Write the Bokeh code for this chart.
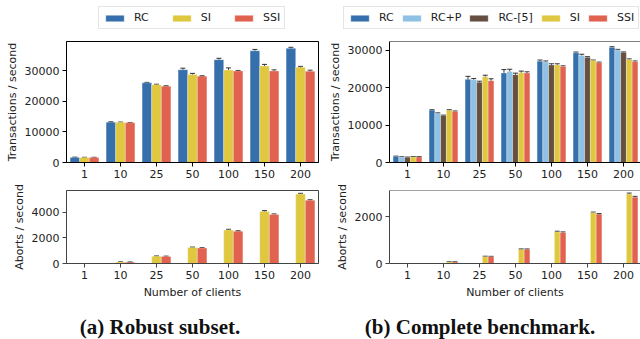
import numpy as np
from bokeh.plotting import figure
from bokeh.models import (ColumnDataSource, Range1d, FixedTicker, Whisker, TeeHead,
                          Legend, LegendItem, Span, Div)
from bokeh.layouts import column, row
from bokeh.embed import file_html
from bokeh.resources import INLINE

# ---------------- data ----------------
clients = ["1", "10", "25", "50", "100", "150", "200"]

# (a) Robust subset
robust_series = ["RC", "SI", "SSI"]
robust_colors = ["#3670ac", "#dfc840", "#e0624f"]
robust_tps_rc = [1650, 13200, 26100, 30400, 33700, 36600, 37400]
robust_tps_si = [1600, 13150, 25500, 28800, 30300, 31600, 31200]
robust_tps_ssi = [1600, 13000, 25000, 28300, 30000, 30000, 29900]
robust_tps_rc_err = [100, 150, 150, 500, 450, 450, 350]
robust_tps_si_err = [100, 100, 150, 400, 700, 550, 300]
robust_tps_ssi_err = [100, 100, 150, 150, 150, 350, 350]
robust_ab_rc = [0, 0, 0, 0, 0, 0, 0]
robust_ab_si = [0, 110, 560, 1250, 2620, 4070, 5420]
robust_ab_ssi = [0, 100, 545, 1210, 2520, 3820, 4930]
robust_ab_rc_err = [0, 0, 0, 0, 0, 0, 0]
robust_ab_si_err = [0, 20, 30, 30, 50, 60, 60]
robust_ab_ssi_err = [0, 20, 30, 30, 40, 50, 50]

# (b) Complete benchmark
full_series = ["RC", "RC+P", "RC-[5]", "SI", "SSI"]
full_colors = ["#3670ac", "#8ec1e3", "#654f40", "#dfc840", "#e0624f"]
full_tps_rc = [1600, 13950, 22200, 23900, 27050, 29290, 30700]
full_tps_rcp = [1450, 13100, 22100, 24300, 26850, 28550, 30000]
full_tps_rc5 = [1350, 12550, 21400, 23450, 26050, 28050, 29370]
full_tps_si = [1500, 13950, 22900, 23950, 26050, 27200, 27450]
full_tps_ssi = [1500, 13600, 21850, 23900, 25600, 26650, 26900]
full_tps_rc_err = [100, 150, 800, 900, 300, 200, 200]
full_tps_rcp_err = [100, 150, 300, 600, 250, 350, 200]
full_tps_rc5_err = [100, 100, 300, 400, 300, 200, 150]
full_tps_si_err = [100, 150, 400, 450, 300, 150, 200]
full_tps_ssi_err = [100, 150, 500, 300, 200, 150, 200]
full_ab_rc = [0, 0, 0, 0, 0, 0, 0]
full_ab_rcp = [0, 0, 0, 0, 0, 0, 0]
full_ab_rc5 = [0, 0, 0, 0, 0, 0, 0]
full_ab_si = [0, 60, 290, 600, 1345, 2160, 2960]
full_ab_ssi = [0, 60, 285, 600, 1315, 2100, 2820]
full_ab_zero_err = [0, 0, 0, 0, 0, 0, 0]
full_ab_si_err = [0, 15, 20, 20, 30, 30, 40]
full_ab_ssi_err = [0, 15, 20, 20, 30, 30, 40]

FONT = "DejaVu Sans"
PX_PER_UNIT = 36.0

# one legend strip spanning the whole width (no axes, frame = whole strip)
lfig = figure(width=640, height=33, title=None,
              x_range=Range1d(-0.5, 6.5), y_range=Range1d(0, 1),
              output_backend="svg", toolbar_location=None,
              x_axis_location=None, y_axis_location=None,
              min_border=0)
lfig.outline_line_color = None
lfig.xgrid.visible = False
lfig.ygrid.visible = False


def style_axes(p, dark):
    p.xgrid.visible = False
    p.ygrid.visible = False
    p.xaxis.ticker = FixedTicker(ticks=list(range(len(clients))))
    p.xaxis.major_label_overrides = {i: c for i, c in enumerate(clients)}
    for ax in p.axis:
        ax.minor_tick_line_color = None
        ax.major_tick_in = 0
        ax.major_tick_out = 4
        ax.major_label_standoff = 3
        ax.major_label_text_font = FONT
        ax.major_label_text_font_size = "11px"
        ax.major_label_text_color = "#222222"
        ax.axis_label_text_font = FONT
        ax.axis_label_text_font_size = "11px"
        ax.axis_label_text_font_style = "normal"
        ax.axis_label_text_color = "#222222"
        ax.axis_label_standoff = 3
        ax.axis_line_color = dark
        ax.major_tick_line_color = dark


def build_panel(series, colors, tps, tps_err, ab, ab_err, caption,
                ml, mr, frame_w, tps_max, ab_max, tps_ticks, ab_ticks,
                leg_x, leg_spacing, cap_pad, open_right):
    fig_w = ml + frame_w + mr
    n = len(series)
    bar_w = 0.8 / n
    x0 = np.arange(len(clients))
    x_end = -0.5 + frame_w / PX_PER_UNIT

    top = figure(width=fig_w, height=149, title=None,
                 x_range=Range1d(-0.5, x_end), y_range=Range1d(0, tps_max),
                 output_backend="svg", toolbar_location=None,
                 min_border_left=ml, min_border_right=mr,
                 min_border_top=8, min_border_bottom=20)
    bot = figure(width=fig_w, height=119, title=None,
                 x_range=Range1d(-0.5, x_end), y_range=Range1d(0, ab_max),
                 output_backend="svg", toolbar_location=None,
                 min_border_left=ml, min_border_right=mr,
                 min_border_top=8, min_border_bottom=38)

    items = []
    for i, (name, col) in enumerate(zip(series, colors)):
        xs = x0 + (i - (n - 1) / 2) * bar_w
        for p, vals, errs in ((top, tps[i], tps_err[i]), (bot, ab[i], ab_err[i])):
            v = np.array(vals, dtype=float)
            e = np.array(errs, dtype=float)
            src = ColumnDataSource(dict(x=xs, top=v, upper=v + e, lower=np.maximum(v - e, 0)))
            p.vbar(x="x", top="top", width=bar_w, source=src,
                   fill_color=col, line_color="white", line_width=0.6, line_alpha=0.5)
            p.add_layout(Whisker(source=src, base="x", upper="upper", lower="lower",
                                 line_color="#333333", line_width=1,
                                 upper_head=TeeHead(size=5, line_color="#333333", line_width=1),
                                 lower_head=TeeHead(size=5, line_color="#333333", line_width=1)))
            if p is top:
                # hidden proxy of the same series, used only for the legend strip
                proxy = lfig.vbar(x="x", top="top", width=bar_w, source=src,
                                  fill_color=col, line_color="white", line_width=0.6,
                                  line_alpha=0.5, visible=False)
                items.append(LegendItem(label=name, renderers=[proxy]))

    top.yaxis.ticker = FixedTicker(ticks=tps_ticks)
    bot.yaxis.ticker = FixedTicker(ticks=ab_ticks)
    top.yaxis.axis_label = "Transactions / second"
    bot.yaxis.axis_label = "Aborts / second"
    bot.xaxis.axis_label = "Number of clients"
    style_axes(top, "black")
    style_axes(bot, "#444444")
    bot.xaxis.axis_label_standoff = 4

    if open_right:
        top.outline_line_color = None
        bot.outline_line_color = None
        top.add_layout(Span(location=tps_max, dimension="width", line_color="black", line_width=1))
        bot.add_layout(Span(location=ab_max, dimension="width", line_color="#444444", line_width=1))
    else:
        top.outline_line_color = "black"
        top.outline_line_alpha = 1
        bot.outline_line_color = "#444444"
        bot.outline_line_alpha = 1

    leg = Legend(items=items, orientation="horizontal", location=(leg_x, 4),
                 label_text_font=FONT, label_text_font_size="11px", label_text_color="#222222",
                 glyph_width=23, glyph_height=8, label_height=12, label_width=1,
                 label_standoff=8, spacing=leg_spacing, padding=4, margin=0,
                 border_line_color="#cccccc", border_line_width=1,
                 background_fill_color="white", background_fill_alpha=1,
                 click_policy="none")
    lfig.add_layout(leg)

    cap = Div(text=('<div style="font-family:\'Liberation Serif\';font-weight:bold;'
                    'font-size:21px;line-height:20px;text-align:center;white-space:nowrap;'
                    f'padding-top:16px;padding-left:{cap_pad}px;width:{fig_w - cap_pad}px;color:#111;">'
                    f'{caption}</div>'),
              width=fig_w, height=38, margin=0)
    return column(top, bot, cap, spacing=0)


left = build_panel(
    robust_series, robust_colors,
    [robust_tps_rc, robust_tps_si, robust_tps_ssi],
    [robust_tps_rc_err, robust_tps_si_err, robust_tps_ssi_err],
    [robust_ab_rc, robust_ab_si, robust_ab_ssi],
    [robust_ab_rc_err, robust_ab_si_err, robust_ab_ssi_err],
    "(a) Robust subset.",
    ml=66, mr=2, frame_w=252, tps_max=39650, ab_max=5700,
    tps_ticks=[0, 10000, 20000, 30000], ab_ticks=[0, 2000, 4000],
    leg_x=98, leg_spacing=21, cap_pad=0, open_right=False)

right = build_panel(
    full_series, full_colors,
    [full_tps_rc, full_tps_rcp, full_tps_rc5, full_tps_si, full_tps_ssi],
    [full_tps_rc_err, full_tps_rcp_err, full_tps_rc5_err, full_tps_si_err, full_tps_ssi_err],
    [full_ab_rc, full_ab_rcp, full_ab_rc5, full_ab_si, full_ab_ssi],
    [full_ab_zero_err, full_ab_zero_err, full_ab_zero_err, full_ab_si_err, full_ab_ssi_err],
    "(b) Complete benchmark.",
    ml=69, mr=0, frame_w=251, tps_max=32300, ab_max=3110,
    tps_ticks=[0, 10000, 20000, 30000], ab_ticks=[0, 2000],
    leg_x=343, leg_spacing=6, cap_pad=14, open_right=True)

layout = column(lfig, row(left, right, spacing=0), spacing=0)
open("out.html", "w").write(file_html(layout, INLINE))
